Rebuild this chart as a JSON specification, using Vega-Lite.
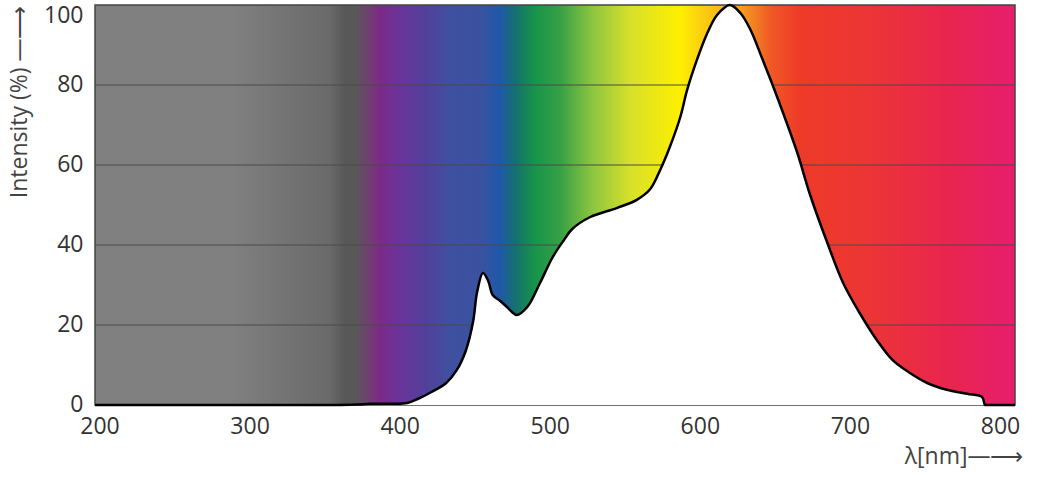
{
  "$schema": "https://vega.github.io/schema/vega-lite/v6.json",
  "width": 920,
  "height": 400,
  "autosize": "none",
  "padding": {"left": 95, "top": 5, "right": 38, "bottom": 74},
  "datasets": {
    "band": [{"lo": 197, "hi": 810, "bottom": 0, "top": 100}],
    "grid": [{"level": 20}, {"level": 40}, {"level": 60}, {"level": 80}],
    "spectrum": [
      {"nm": 197, "intensity": 0},
      {"nm": 300, "intensity": 0},
      {"nm": 360, "intensity": 0},
      {"nm": 372, "intensity": 0.1},
      {"nm": 380, "intensity": 0.3},
      {"nm": 395, "intensity": 0.3},
      {"nm": 405, "intensity": 0.5},
      {"nm": 412, "intensity": 1.5},
      {"nm": 420, "intensity": 3},
      {"nm": 431, "intensity": 5.5},
      {"nm": 438, "intensity": 8.7},
      {"nm": 444, "intensity": 13.5},
      {"nm": 449, "intensity": 21},
      {"nm": 451.5, "intensity": 28},
      {"nm": 455.5, "intensity": 33},
      {"nm": 459, "intensity": 31},
      {"nm": 462, "intensity": 27.5},
      {"nm": 467, "intensity": 26},
      {"nm": 471.5, "intensity": 24.5},
      {"nm": 478, "intensity": 22.5},
      {"nm": 485, "intensity": 24.5},
      {"nm": 493.5, "intensity": 30.5},
      {"nm": 502, "intensity": 37},
      {"nm": 509, "intensity": 41},
      {"nm": 515, "intensity": 44},
      {"nm": 527, "intensity": 47},
      {"nm": 545, "intensity": 49.3},
      {"nm": 558, "intensity": 51.3},
      {"nm": 567, "intensity": 54},
      {"nm": 573.5, "intensity": 58.7},
      {"nm": 580, "intensity": 64.5},
      {"nm": 587, "intensity": 72},
      {"nm": 591.5, "intensity": 78.7},
      {"nm": 598, "intensity": 86.2},
      {"nm": 605, "intensity": 93},
      {"nm": 611.5, "intensity": 97.5},
      {"nm": 620, "intensity": 100},
      {"nm": 627, "intensity": 98},
      {"nm": 633.5, "intensity": 94},
      {"nm": 642, "intensity": 86.2},
      {"nm": 649, "intensity": 79.5},
      {"nm": 655.5, "intensity": 73},
      {"nm": 665, "intensity": 63},
      {"nm": 673.5, "intensity": 52.5},
      {"nm": 685, "intensity": 40.5},
      {"nm": 695.5, "intensity": 30.5},
      {"nm": 706.5, "intensity": 23},
      {"nm": 718, "intensity": 16.2},
      {"nm": 728.5, "intensity": 11.2},
      {"nm": 740, "intensity": 8},
      {"nm": 751.5, "intensity": 5.5},
      {"nm": 764.5, "intensity": 3.8},
      {"nm": 778, "intensity": 2.8},
      {"nm": 788, "intensity": 2},
      {"nm": 789.5, "intensity": 0.5},
      {"nm": 790, "intensity": 0},
      {"nm": 791, "intensity": 0},
      {"nm": 800, "intensity": 0},
      {"nm": 810, "intensity": 0}
    ]
  },
  "layer": [
    {
      "data": {"name": "band"},
      "mark": {
        "type": "rect",
        "stroke": "#444444",
        "strokeWidth": 1.5,
        "fill": {
          "gradient": "linear",
          "x1": 0, "x2": 1, "y1": 0, "y2": 0,
          "stops": [
            {"offset": 0, "color": "#808080"},
            {"offset": 0.147, "color": "#808080"},
            {"offset": 0.255, "color": "#6a6a6a"},
            {"offset": 0.272, "color": "#575757"},
            {"offset": 0.283, "color": "#585858"},
            {"offset": 0.297, "color": "#704070"},
            {"offset": 0.31, "color": "#7b2a88"},
            {"offset": 0.332, "color": "#6a349a"},
            {"offset": 0.359, "color": "#52409a"},
            {"offset": 0.386, "color": "#3f50a0"},
            {"offset": 0.418, "color": "#3a52a0"},
            {"offset": 0.44, "color": "#1f58a8"},
            {"offset": 0.457, "color": "#167070"},
            {"offset": 0.478, "color": "#17944a"},
            {"offset": 0.505, "color": "#35a045"},
            {"offset": 0.541, "color": "#8dc63f"},
            {"offset": 0.582, "color": "#d8e02a"},
            {"offset": 0.636, "color": "#fff000"},
            {"offset": 0.658, "color": "#fbd010"},
            {"offset": 0.701, "color": "#f7a020"},
            {"offset": 0.734, "color": "#ef5a25"},
            {"offset": 0.766, "color": "#ee3a28"},
            {"offset": 0.842, "color": "#ec3535"},
            {"offset": 0.929, "color": "#e8254f"},
            {"offset": 1, "color": "#e61e6e"}
          ]
        }
      },
      "encoding": {
        "x": {
          "field": "lo",
          "type": "quantitative",
          "title": "λ[nm]—⟶",
          "scale": {"domain": [197, 810], "nice": false, "zero": false},
          "axis": {
            "values": [200, 300, 400, 500, 600, 700, 800],
            "titleAnchor": "end",
            "titleAlign": "right",
            "titlePadding": 7,
            "titleX": 928,
            "labelPadding": 10,
            "labelFlush": false
          }
        },
        "x2": {"field": "hi"},
        "y": {
          "field": "bottom",
          "type": "quantitative",
          "title": "Intensity (%) —⟶",
          "scale": {"domain": [0, 100], "nice": false},
          "axis": {
            "values": [0, 20, 40, 60, 80, 100],
            "titleAnchor": "end",
            "titlePadding": 12,
            "labelPadding": 12,
            "labelFlush": false,
            "labelOffset": {"condition": {"test": "datum.value === 100", "value": 10}, "value": -1}
          }
        },
        "y2": {"field": "top"}
      }
    },
    {
      "data": {"name": "grid"},
      "mark": {"type": "rule", "color": "#4a4a4a", "strokeWidth": 1},
      "encoding": {
        "y": {"field": "level", "type": "quantitative", "title": "Intensity (%) —⟶"}
      }
    },
    {
      "data": {"name": "spectrum"},
      "mark": {
        "type": "area",
        "fill": "white",
        "fillOpacity": 1,
        "interpolate": "catmull-rom",
        "line": {"color": "black", "strokeWidth": 2.5}
      },
      "encoding": {
        "x": {"field": "nm", "type": "quantitative", "title": "λ[nm]—⟶"},
        "y": {"field": "intensity", "type": "quantitative", "title": "Intensity (%) —⟶"}
      }
    },
    {
      "mark": {"type": "rule", "color": "black", "strokeWidth": 3.5},
      "encoding": {"y": {"datum": 0, "type": "quantitative", "title": "Intensity (%) —⟶"}}
    }
  ],
  "config": {
    "view": {"stroke": null},
    "axis": {
      "grid": false,
      "ticks": false,
      "domain": false,
      "labelFont": "Open Sans",
      "labelFontSize": 23,
      "labelColor": "#333333",
      "titleFont": "Open Sans",
      "titleFontSize": 23,
      "titleFontWeight": "normal",
      "titleColor": "#444444"
    }
  }
}
